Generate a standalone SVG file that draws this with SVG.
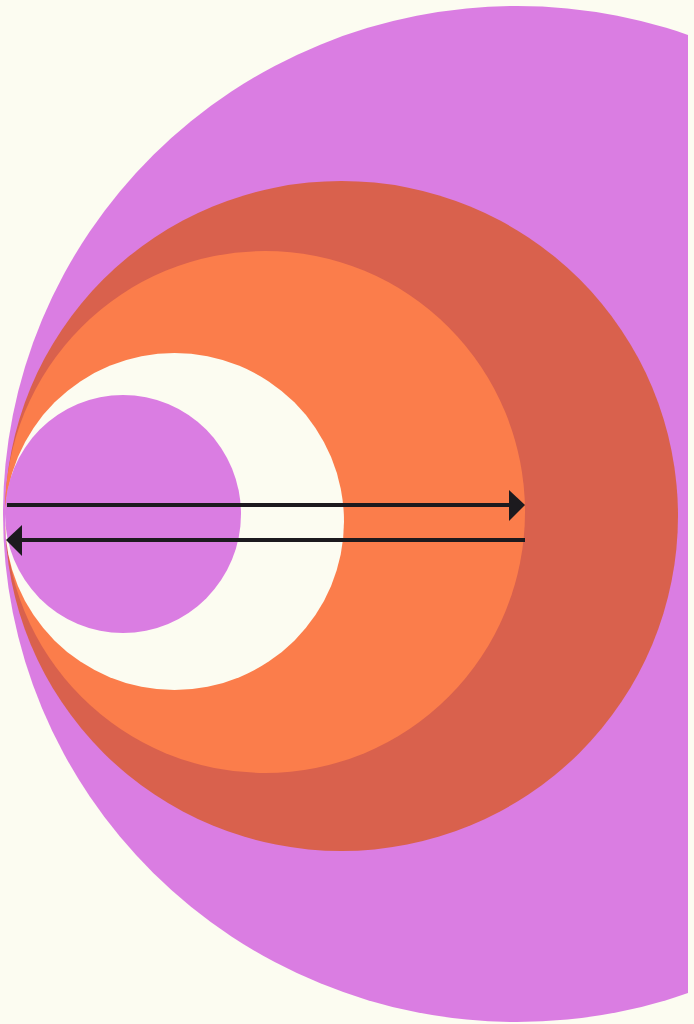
<svg xmlns="http://www.w3.org/2000/svg" width="694" height="1024" viewBox="0 0 694 1024">
  <style>
    .bg { fill: #FCFCF1; }
    .violet { fill: #DA7DE2; }
    .rust { fill: #D9614D; }
    .orange { fill: #FB7D4B; }
    .cream { fill: #FCFCF1; }
    .shaft { stroke: #1C1A1E; stroke-width: 4; fill: none; }
    .head { fill: #1C1A1E; }
  </style>
  <defs>
    <clipPath id="page">
      <rect x="0" y="0" width="688" height="1024"/>
    </clipPath>
  </defs>
  <rect class="bg" x="0" y="0" width="694" height="1024"/>
  <g id="shapes">
    <ellipse id="outer-violet" class="violet" cx="517" cy="514" rx="514" ry="508" clip-path="url(#page)"/>
    <ellipse id="rust-disc" class="rust" cx="341.5" cy="516" rx="336.5" ry="335"/>
    <ellipse id="orange-disc" class="orange" cx="265" cy="512" rx="260" ry="261"/>
    <ellipse id="cream-disc" class="cream" cx="174.5" cy="521.5" rx="169.5" ry="168.5"/>
    <ellipse id="inner-violet" class="violet" cx="123" cy="514" rx="118" ry="119"/>
  </g>
  <g id="connectors">
    <line class="shaft" x1="7" y1="505" x2="512" y2="505"/>
    <polygon class="head" points="509,490 525,505 509,521"/>
    <line class="shaft" x1="20" y1="540" x2="525" y2="540"/>
    <polygon class="head" points="22,525 6,540 22,556"/>
  </g>
</svg>
